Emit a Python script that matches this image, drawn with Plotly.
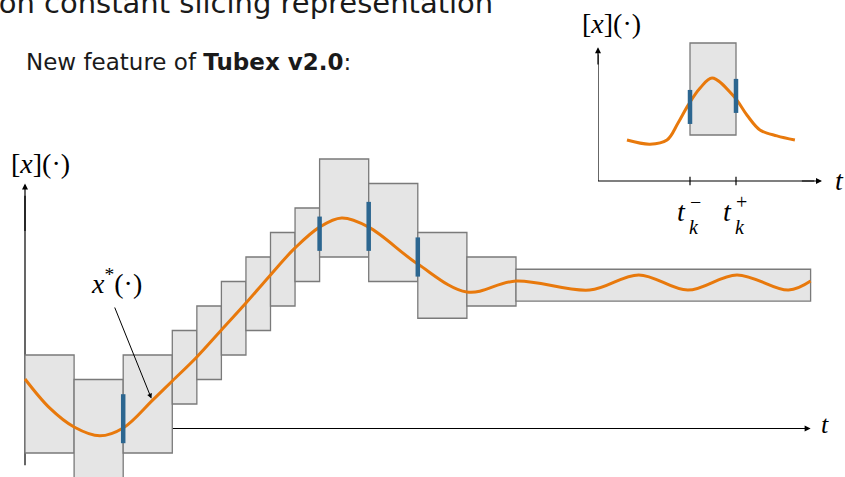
import plotly.graph_objects as go

# ---- main tube: slices [t0, t1] x [lo, hi] ----
slice_t0 = [0, 2, 4, 6, 7, 8, 9, 10, 11, 12, 14, 16, 18, 20]
slice_t1 = [2, 4, 6, 7, 8, 9, 10, 11, 12, 14, 16, 18, 20, 32]
slice_lo = [-1, -3, -1, 1, 2, 3, 4, 5, 6, 7, 6, 4.5, 5, 5.2]
slice_hi = [3, 2, 3, 4, 5, 6, 7, 8, 9, 11, 10, 8, 7, 6.5]

# gates (interval values at slice boundaries)
gate_t = [4, 12, 14, 16]
gate_lo = [-0.6, 7.25, 7.25, 6.2]
gate_hi = [1.4, 8.65, 9.25, 7.8]

# trajectory x*(t)
curve_t = [0, 1, 2, 3.05, 4, 5.2, 6, 7, 8, 9, 10, 11, 12, 12.9, 14, 16, 18, 20,
           23, 25, 27, 29, 31.1, 32]
curve_x = [2.02, 0.84, 0.06, -0.3, 0.02, 1.16, 1.94, 2.92, 4.02, 5.12, 6.27, 7.37,
           8.22, 8.59, 8.22, 6.71, 5.57, 6.02, 5.65, 6.27, 5.65, 6.27, 5.65, 6.02]

# ---- inset: a single slice ----
inset_slice = (2, 3, 1, 3)  # t0, t1, lo, hi
inset_gate_t = [2, 3]
inset_gate_lo = [1.24, 1.48]
inset_gate_hi = [1.98, 2.22]
inset_t = [0.63, 1.13, 1.5, 1.74, 1.96, 2.22, 2.48, 2.96, 3.24, 3.52, 3.89, 4.28]
inset_x = [0.89, 0.80, 0.89, 1.26, 1.65, 2.02, 2.24, 1.83, 1.43, 1.11, 0.98, 0.89]
inset_ticks = [2, 3]
inset_tick_signs = ["\u2212", "+"]

ORANGE = "#E8790C"
BLUE = "#2C6690"
BOX_FILL = "#E5E5E5"
BOX_EDGE = "#7A7A7A"
SERIF = "Liberation Serif"
SANS = "DejaVu Sans"

fig = go.Figure()

# trajectories
fig.add_trace(go.Scatter(x=curve_t, y=curve_x, mode="lines", line_shape="spline",
                         line=dict(color=ORANGE, width=3), xaxis="x", yaxis="y",
                         hoverinfo="skip"))
fig.add_trace(go.Scatter(x=inset_t, y=inset_x, mode="lines", line_shape="spline",
                         line=dict(color=ORANGE, width=3), xaxis="x2", yaxis="y2",
                         hoverinfo="skip"))

# gates
gx, gy = [], []
for t, lo, hi in zip(gate_t, gate_lo, gate_hi):
    gx += [t, t, None]
    gy += [lo, hi, None]
fig.add_trace(go.Scatter(x=gx, y=gy, mode="lines", line=dict(color=BLUE, width=4.5),
                         xaxis="x", yaxis="y", hoverinfo="skip"))
gx, gy = [], []
for t, lo, hi in zip(inset_gate_t, inset_gate_lo, inset_gate_hi):
    gx += [t, t, None]
    gy += [lo, hi, None]
fig.add_trace(go.Scatter(x=gx, y=gy, mode="lines", line=dict(color=BLUE, width=4.5),
                         xaxis="x2", yaxis="y2", hoverinfo="skip"))

shapes = []
# axis lines (partly hidden behind the slices)
shapes.append(dict(type="line", xref="x", yref="y", x0=0, x1=31.5, y0=0, y1=0,
                   line=dict(color="black", width=1.2), layer="below"))
shapes.append(dict(type="line", xref="x", yref="y", x0=0, x1=0, y0=-1.5, y1=9.5,
                   line=dict(color="black", width=1.2), layer="below"))
# slices
for t0, t1, lo, hi in zip(slice_t0, slice_t1, slice_lo, slice_hi):
    shapes.append(dict(type="rect", xref="x", yref="y", x0=t0, x1=t1, y0=lo, y1=hi,
                       fillcolor=BOX_FILL, line=dict(color=BOX_EDGE, width=1.3),
                       layer="below"))
# inset axes + slice
shapes.append(dict(type="line", xref="x2", yref="y2", x0=0, x1=4.7, y0=0, y1=0,
                   line=dict(color="black", width=1.2), layer="below"))
shapes.append(dict(type="line", xref="x2", yref="y2", x0=0, x1=0, y0=0, y1=2.75,
                   line=dict(color="black", width=1.2), layer="below"))
t0, t1, lo, hi = inset_slice
shapes.append(dict(type="rect", xref="x2", yref="y2", x0=t0, x1=t1, y0=lo, y1=hi,
                   fillcolor=BOX_FILL, line=dict(color=BOX_EDGE, width=1.3),
                   layer="below"))
for t in inset_ticks:
    shapes.append(dict(type="line", xref="x2", yref="y2", x0=t, x1=t, y0=-0.09, y1=0.09,
                       line=dict(color="black", width=1.2), layer="below"))

annotations = []


def arrow(x0, y0, x1, y1, xr, yr, width=1.2):
    annotations.append(dict(x=x1, y=y1, ax=x0, ay=y0, xref=xr, yref=yr,
                            axref=xr, ayref=yr, text="", showarrow=True,
                            arrowhead=2, arrowsize=1, arrowwidth=width,
                            arrowcolor="black"))


def label(x, y, text, size, xr="x", yr="y", font=SERIF, **kw):
    d = dict(x=x, y=y, xref=xr, yref=yr, text=text, showarrow=False,
             font=dict(family=font, size=size, color="black"))
    d.update(kw)
    annotations.append(d)


# arrow tips of the axes
arrow(30, 0, 32, 0, "x", "y")
arrow(0, 8, 0, 10, "x", "y")
arrow(4.4, 0, 4.87, 0, "x2", "y2")
arrow(0, 2.5, 0, 2.91, "x2", "y2")
# pointer to the trajectory
arrow(3.63, 5.0, 5.15, 1.22, "x", "y", width=1)

label(0.62, 10.8, "[<i>x</i>](\u00b7)", 28)
label(3.72, 6.0, "<i>x</i><sup>*</sup>(\u00b7)", 28)
label(32.6, 0.15, "<i>t</i>", 26)
label(0.3, 3.42, "[<i>x</i>](\u00b7)", 28, xr="x2", yr="y2")
label(5.24, 0.02, "<i>t</i>", 28, xr="x2", yr="y2")
for t, s in zip(inset_ticks, inset_tick_signs):
    label(t, -0.67, "<i>t</i>", 28, xr="x2", yr="y2", xshift=-9)
    label(t, -1.0, "<i>k</i>", 20, xr="x2", yr="y2", xshift=4)
    label(t, -0.46, s, 20, xr="x2", yr="y2", xshift=5)

# slide text
annotations.append(dict(x=-25 / 845, y=(477 - 13) / 477, xref="paper", yref="paper",
                        xanchor="left", yanchor="bottom", yshift=-9,
                        text="Non constant slicing representation", showarrow=False,
                        font=dict(family=SANS, size=29, color="#1a1a1a")))
annotations.append(dict(x=24 / 845, y=(477 - 62) / 477, xref="paper", yref="paper",
                        xanchor="left", yanchor="middle",
                        text="New feature of <b>Tubex v2.0</b>:", showarrow=False,
                        font=dict(family=SANS, size=23, color="#1a1a1a")))

PX = 24.55  # pixels per unit on the main axes
PY = 24.5
fig.update_layout(
    width=845, height=477, margin=dict(l=0, r=0, t=0, b=0),
    paper_bgcolor="white", plot_bgcolor="rgba(0,0,0,0)", showlegend=False,
    xaxis=dict(domain=[0, 1], range=[-25 / PX, 820 / PX], visible=False,
               fixedrange=True),
    yaxis=dict(domain=[0, 1], range=[-48.5 / PY, 428.5 / PY], visible=False,
               fixedrange=True),
    xaxis2=dict(domain=[598 / 845, 1], range=[0, 247 / 46], visible=False,
                anchor="y2", fixedrange=True),
    yaxis2=dict(domain=[(477 - 245) / 477, 1], range=[-64 / 46, 181 / 46],
                visible=False, anchor="x2", fixedrange=True),
    shapes=shapes, annotations=annotations,
)

fig.write_html("out.html")
